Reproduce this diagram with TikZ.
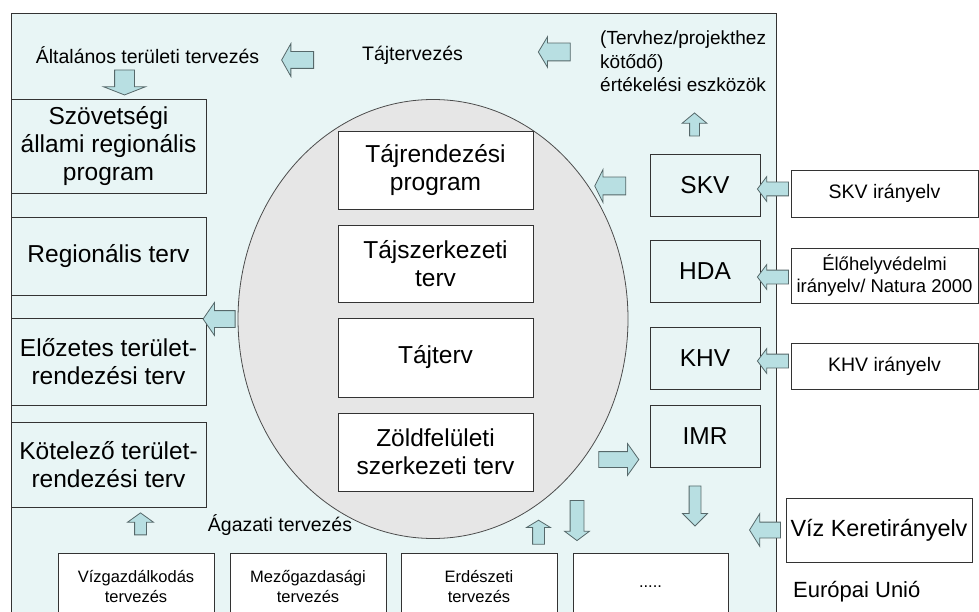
\documentclass[tikz,border=0pt]{standalone}
\usepackage{fontspec}
\setmainfont{Liberation Sans}
\usetikzlibrary{shapes.geometric,shapes.arrows}
\definecolor{panelfill}{HTML}{E8F5F5}
\definecolor{arrowfill}{HTML}{B8DFE2}
\definecolor{arrowline}{HTML}{56686A}
\definecolor{ellfill}{HTML}{E6E6E6}
\definecolor{linecol}{HTML}{333333}
\begin{document}
\begin{tikzpicture}[x=1pt,y=-1pt,
  box/.style={draw=linecol, line width=0.9pt, inner sep=1pt, align=center,
    font=\fontsize{24.5}{28}\selectfont},
  lbox/.style={box, fill=panelfill, minimum width=195, minimum height=#1},
  wbox/.style={box, fill=white, minimum width=195, minimum height=#1},
  rbox/.style={box, fill=panelfill, minimum width=110, minimum height=#1},
  ebox/.style={box, fill=white, minimum width=187, minimum height=#1,
    font=\fontsize{19.5}{22.5}\selectfont},
  bbox/.style={box, fill=white, minimum width=156, minimum height=68,
    font=\fontsize{16.5}{20}\selectfont},
  lbl/.style={inner sep=0pt, font=\fontsize{19.5}{23}\selectfont},
  barrow/.style n args={4}{single arrow, draw=arrowline, fill=arrowfill,
    line width=0.8pt, inner xsep=0pt, inner ysep=#2, outer sep=0pt,
    minimum height=#1, minimum width=0pt, single arrow head extend=#3,
    single arrow tip angle=#4}]
\useasboundingbox (0,0) rectangle (979,612);
\clip (0,0) rectangle (979,612);
\fill[white] (0,0) rectangle (979,612);
% main panel
\draw[draw=linecol, line width=0.9pt, fill=panelfill] (11,13) rectangle (776,650);
% ellipse
\node[ellipse, draw=gray!60!black, line width=0.8pt, fill=ellfill, inner sep=0pt,
  minimum width=390, minimum height=439] (ell) at (433,319) {};
% left boxes
\node[lbox=94] (szov) at (108.5,146) {Szövetségi\\állami regionális\\program};
\node[lbox=78] (reg) at (108.5,256) {Regionális terv};
\node[lbox=87] (elo) at (108.5,361.5) {Előzetes terület-\\rendezési terv};
\node[lbox=85] (kot) at (108.5,464.5) {Kötelező terület-\\rendezési terv};
% inner boxes
\node[wbox=78] (tr) at (435.5,170) {Tájrendezési\\program};
\node[wbox=77] (tsz) at (435.5,263.5) {Tájszerkezeti\\terv};
\node[wbox=79] (tt) at (435.5,357.5) {Tájterv};
\node[wbox=78] (zf) at (435.5,452) {Zöldfelületi\\szerkezeti terv};
% right column
\node[rbox=62] (skv) at (705,185) {SKV};
\node[rbox=62] (hda) at (705,271) {HDA};
\node[rbox=62] (khv) at (705,358) {KHV};
\node[rbox=62] (imr) at (705,436) {IMR};
% external boxes
\node[ebox=47] (skvi) at (884.5,193.5) {SKV irányelv};
\node[ebox=55, font=\fontsize{18.5}{22}\selectfont] (natura) at (884.5,275.5) {Élőhelyvédelmi\\irányelv/ Natura 2000};
\node[ebox=46] (khvi) at (884.5,366) {KHV irányelv};
\node[ebox=64, minimum width=186, font=\fontsize{23.4}{27}\selectfont] (viz) at (879,530) {Víz Keretirányelv};
% bottom boxes
\node[bbox] (vg) at (136,587) {Vízgazdálkodás\\tervezés};
\node[bbox] (mg) at (308,587) {Mezőgazdasági\\tervezés};
\node[bbox] (erd) at (479,587) {Erdészeti\\tervezés};
\node[bbox, minimum width=155] (etc) at (650.5,587) {.....};
% labels
\node[lbl] (alt) at (147.5,55) {Általános területi tervezés};
\node[lbl] (tajt) at (412.5,55) {Tájtervezés};
\node[lbl, anchor=west, align=left, font=\fontsize{19}{23.5}\selectfont] (ert) at (600,61.5) {(Tervhez/projekthez\\kötődő)\\értékelési eszközök};
\node[lbl] (aga) at (280,525) {Ágazati tervezés};
\node[lbl, anchor=west, font=\fontsize{22}{26}\selectfont] (eu) at (793,592) {Európai Unió};
% block arrows: {length}{half shaft}{head extend}{tip angle}
\node[barrow={32}{8}{8}{121.3}, rotate=180] (a1) at (300,60) {};
\node[barrow={32}{8.5}{6.5}{118.1}, rotate=180] (a2) at (557,52) {};
\node[barrow={25}{9.5}{11}{137.4}, rotate=270] (a3) at (124.5,80.5) {};
\node[barrow={23}{4.5}{7.5}{100.4}, rotate=90] (a4) at (694.5,126.5) {};
\node[barrow={31}{8.5}{7.5}{126.9}, rotate=180] (a5) at (612.5,186) {};
\node[barrow={31}{6.5}{5.5}{106.3}, rotate=180] (a6) at (775.5,189) {};
\node[barrow={31}{6.5}{5.5}{106.3}, rotate=180] (a7) at (775.5,277) {};
\node[barrow={31}{6.5}{5.5}{106.3}, rotate=180] (a8) at (775.5,361) {};
\node[barrow={31}{7.5}{8.5}{116}, rotate=180] (a9) at (767.5,530) {};
\node[barrow={32}{8}{8}{110.9}, rotate=180] (a10) at (222,319) {};
\node[barrow={22}{5.5}{7}{108.5}, rotate=90] (a11) at (140.5,526) {};
\node[barrow={40}{7.5}{8}{109.3}] (a12) at (616,459.5) {};
\node[barrow={40}{5.5}{6.5}{90}, rotate=270] (a13) at (695,503) {};
\node[barrow={24}{5.5}{6}{117.3}, rotate=90] (a14) at (538.5,534) {};
\node[barrow={40}{6.5}{5.5}{106.3}, rotate=270] (a15) at (577,518) {};
\end{tikzpicture}
\end{document}
